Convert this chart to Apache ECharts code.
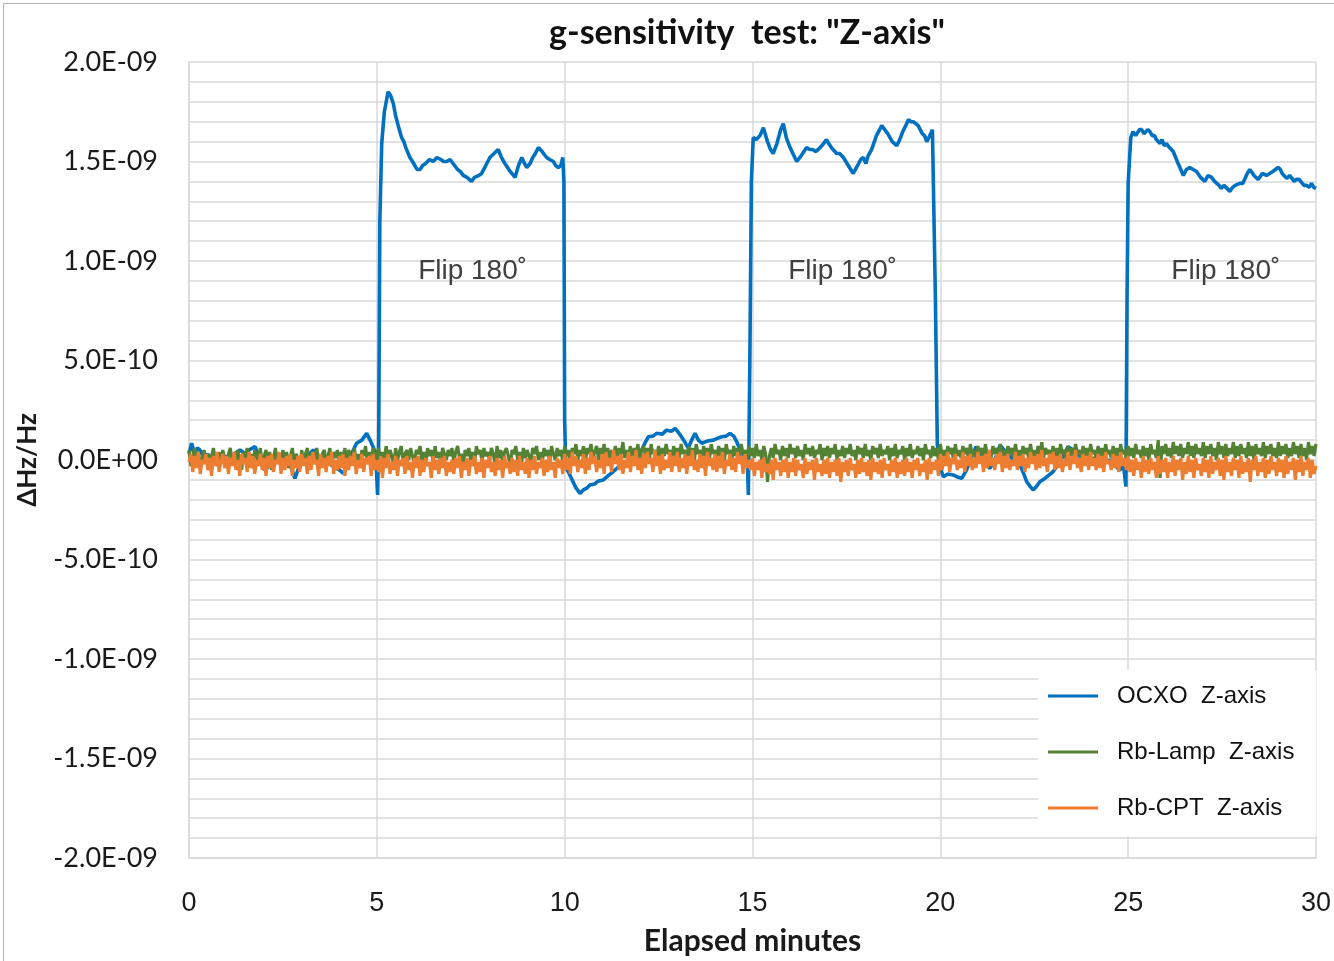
<!DOCTYPE html>
<html>
<head>
<meta charset="utf-8">
<title>g-sensitivity test: "Z-axis"</title>
<script src="https://cdn.jsdelivr.net/npm/echarts@6/dist/echarts.min.js"></script>
<style>
  html, body { margin: 0; padding: 0; background: #ffffff; }
  #chart { width: 1334px; height: 961px; }
</style>
</head>
<body>
<div id="chart"></div>
<script>
// Fractional frequency offset, values given in units of 1E-10.
const UNIT = 1e-10;

// OCXO trace: [elapsed minute, offset x1E-10]
const ocxoTrace = [
  [0, 0.3], [0.07, 0.84], [0.15, 0.3], [0.22, 0.6], [0.29, 0.5], [0.4, 0.1], [0.5, 0.3], [0.6, -0.1],
  [0.74, 0.25], [0.9, 0.0], [1.0, 0.2], [1.1, -0.2], [1.2, 0.3], [1.36, 0.5], [1.5, 0.3], [1.6, 0.5],
  [1.76, 0.67], [1.85, 0.2], [1.95, -0.3], [2.02, -0.5], [2.15, -0.3], [2.3, 0.0], [2.45, -0.2],
  [2.6, 0.1], [2.7, -0.3], [2.82, -0.92], [2.9, -0.5], [3.0, -0.1], [3.15, 0.2], [3.31, 0.5],
  [3.45, 0.2], [3.6, 0.0], [3.75, -0.2], [3.9, -0.4], [4.0, -0.5], [4.11, -0.67], [4.2, -0.3],
  [4.3, 0.2], [4.46, 0.84], [4.6, 1.0], [4.73, 1.34], [4.82, 1.0], [4.9, 0.67], [4.97, 0.3],
  [5.02, -1.76], [5.05, 1.0], [5.08, 12.0], [5.13, 15.9], [5.2, 17.5], [5.3, 18.5], [5.37, 18.3], [5.44, 17.9],
  [5.5, 17.3], [5.57, 16.8], [5.66, 16.2], [5.72, 16.0], [5.77, 15.7], [5.88, 15.2], [5.95, 15.0], [6.0, 14.9],
  [6.07, 14.6], [6.15, 14.6], [6.22, 14.8], [6.3, 14.9], [6.4, 15.1], [6.5, 15.0], [6.6, 15.2], [6.7, 15.1],
  [6.78, 15.0], [6.86, 15.0], [6.95, 15.1], [7.03, 14.9], [7.15, 14.6], [7.22, 14.5], [7.3, 14.3],
  [7.4, 14.2], [7.52, 14.0], [7.6, 14.2], [7.65, 14.1], [7.72, 14.3], [7.79, 14.4], [7.9, 14.8],
  [8.01, 15.2], [8.12, 15.4], [8.23, 15.6], [8.32, 15.2], [8.41, 14.9], [8.55, 14.5], [8.68, 14.2],
  [8.77, 14.8], [8.86, 15.2], [8.93, 14.9], [8.99, 14.7], [9.08, 14.9], [9.15, 15.2], [9.22, 15.4],
  [9.3, 15.7], [9.4, 15.5], [9.52, 15.2], [9.6, 15.1], [9.7, 15.0], [9.76, 14.8], [9.83, 14.7],
  [9.9, 14.8], [9.95, 15.2], [9.98, 14.0], [10.0, 2.0], [10.03, -0.4], [10.1, -0.6], [10.2, -1.0],
  [10.3, -1.4], [10.41, -1.68], [10.5, -1.5], [10.6, -1.4], [10.67, -1.26], [10.8, -1.2], [10.9, -1.05],
  [11.03, -1.0], [11.15, -0.8], [11.29, -0.59], [11.4, -0.4], [11.56, -0.17], [11.7, 0.0],
  [11.85, 0.2], [11.95, 0.3], [12.05, 0.5], [12.15, 0.9], [12.23, 1.17], [12.35, 1.2], [12.45, 1.34],
  [12.6, 1.3], [12.71, 1.5], [12.85, 1.45], [12.94, 1.59], [13.02, 1.4], [13.11, 1.17], [13.2, 0.9],
  [13.29, 0.59], [13.38, 1.0], [13.47, 1.34], [13.56, 1.0], [13.65, 0.84], [13.8, 0.95], [13.96, 1.0],
  [14.08, 1.1], [14.18, 1.17], [14.3, 1.2], [14.4, 1.34], [14.5, 1.2], [14.58, 0.92], [14.71, 0.34],
  [14.8, 0.2], [14.86, 0.1], [14.89, -1.76], [14.93, 5.0], [14.97, 14.0], [15.02, 16.2], [15.1, 16.1],
  [15.2, 16.3], [15.29, 16.7], [15.35, 16.3], [15.4, 16.0], [15.48, 15.6], [15.55, 15.4], [15.65, 15.9],
  [15.75, 16.6], [15.82, 16.9], [15.9, 16.2], [16.0, 15.7], [16.1, 15.3], [16.18, 15.0], [16.3, 15.3],
  [16.44, 15.7], [16.52, 15.6], [16.6, 15.6], [16.68, 15.5], [16.75, 15.6], [16.85, 15.8], [16.97, 16.1],
  [17.03, 15.9], [17.1, 15.7], [17.24, 15.4], [17.32, 15.4], [17.42, 15.2], [17.55, 14.8], [17.68, 14.4],
  [17.8, 14.8], [17.88, 15.1], [17.95, 15.2], [18.02, 14.9], [18.08, 15.3], [18.17, 15.6], [18.3, 16.3],
  [18.44, 16.8], [18.52, 16.6], [18.6, 16.4], [18.72, 16.0], [18.84, 15.8], [18.92, 16.1], [19.0, 16.5],
  [19.08, 16.8], [19.15, 17.1], [19.22, 17.0], [19.28, 17.0], [19.35, 16.9], [19.41, 16.8], [19.52, 16.4],
  [19.58, 16.3], [19.64, 16.0], [19.72, 16.3], [19.79, 16.6], [19.83, 16.5], [19.87, 8.0], [19.92, 0.8],
  [19.98, -0.3], [20.08, -0.84], [20.2, -0.7], [20.34, -0.75], [20.45, -0.85], [20.57, -0.92],
  [20.7, -0.5], [20.8, 0.0], [20.95, 0.67], [21.05, 0.3], [21.2, -0.2], [21.32, -0.42], [21.45, 0.0],
  [21.59, 0.75], [21.7, 0.5], [21.85, 0.2], [22.0, -0.1], [22.12, -0.25], [22.2, -0.6], [22.3, -1.09],
  [22.4, -1.35], [22.47, -1.5], [22.55, -1.35], [22.65, -1.09], [22.8, -0.9], [23.0, -0.59],
  [23.15, -0.2], [23.3, 0.3], [23.4, 0.67], [23.54, 0.5], [23.7, 0.2], [23.9, -0.1], [24.1, 0.1],
  [24.3, -0.2], [24.5, 0.0], [24.65, -0.3], [24.78, -0.5], [24.88, -0.3], [24.94, -1.34], [24.97, 8.0],
  [25.0, 13.9], [25.07, 16.2], [25.13, 16.5], [25.2, 16.3], [25.25, 16.4], [25.3, 16.6], [25.36, 16.6],
  [25.42, 16.4], [25.47, 16.5], [25.52, 16.6], [25.58, 16.5], [25.64, 16.3], [25.7, 16.3], [25.75, 16.1],
  [25.8, 16.2], [25.85, 15.9], [25.9, 16.1], [25.96, 15.8], [26.02, 15.9], [26.1, 15.7], [26.2, 15.5],
  [26.33, 14.9], [26.47, 14.3], [26.55, 14.6], [26.64, 14.7], [26.73, 14.6], [26.82, 14.5], [26.93, 14.2],
  [27.04, 14.0], [27.13, 14.3], [27.22, 14.2], [27.3, 14.0], [27.35, 13.9], [27.42, 13.8], [27.48, 13.65],
  [27.55, 13.8], [27.6, 13.7], [27.71, 13.5], [27.78, 13.7], [27.85, 13.8], [27.97, 13.9], [28.05, 13.9],
  [28.1, 14.1], [28.17, 14.4], [28.24, 14.6], [28.35, 14.3], [28.46, 14.1], [28.57, 14.4], [28.68, 14.3],
  [28.77, 14.4], [28.85, 14.5], [28.99, 14.7], [29.05, 14.6], [29.1, 14.4], [29.22, 14.15], [29.3, 14.3],
  [29.35, 14.2], [29.42, 14.0], [29.48, 14.1], [29.55, 14.1], [29.6, 14.0], [29.68, 13.8], [29.75, 13.8],
  [29.82, 13.7], [29.88, 13.9], [29.94, 13.7], [30.0, 13.65]
];

// Rb references, sampled every 0.05 minute from 0 to 30 (x1E-10), one row per minute.
const SAMPLE_STEP = 0.05;
const rbLamp = [
  0.5, -0.3, 0.2, 0.6, -0.2, 0.4, -0.4, 0.1, 0.5, -0.1, 0.3, -0.5, 0.2, 0.6, 0.0, -0.3, 0.4, -0.2, 0.5, 0.1,
  -0.4, 0.3, 0.6, -0.1, 0.2, -0.3, 0.5, 0.0, -0.5, 0.4, 0.1, 0.6, -0.2, 0.3, -0.4, 0.5, 0.2, -0.1, 0.6, -0.3,
  0.2, 0.5, -0.2, 0.4, -0.5, 0.1, 0.6, -0.1, 0.3, -0.3, 0.5, 0.0, 0.4, -0.4, 0.2, 0.6, -0.2, 0.3, 0.1, -0.4,
  0.5, -0.1, 0.3, 0.6, -0.3, 0.2, 0.4, -0.2, 0.6, 0.0, -0.4, 0.3, 0.5, -0.1, 0.2, 0.6, -0.3, 0.4, 0.1, 0.5,
  -0.2, 0.4, 0.1, 0.6, -0.3, 0.5, 0.2, -0.1, 0.6, 0.0, 0.3, -0.4, 0.5, 0.2, 0.7, -0.2, 0.4, 0.1, 0.6, -0.1,
  0.3, 0.6, -0.2, 0.4, 0.1, 0.7, -0.1, 0.5, 0.2, -0.3, 0.6, 0.0, 0.4, 0.7, -0.2, 0.3, 0.5, 0.0, 0.6, 0.2,
  -0.2, 0.5, 0.3, 0.7, 0.0, 0.4, -0.3, 0.6, 0.2, 0.5, -0.1, 0.7, 0.1, 0.4, -0.2, 0.6, 0.3, 0.0, 0.5, 0.2,
  0.6, -0.1, 0.4, 0.7, 0.1, 0.3, -0.3, 0.5, 0.2, 0.6, 0.0, 0.4, -0.2, 0.7, 0.3, 0.5, -0.1, 0.6, 0.2, 0.4,
  0.0, 0.6, 0.3, -0.2, 0.7, 0.1, 0.5, -0.1, 0.4, 0.6, 0.2, -0.3, 0.5, 0.3, 0.7, 0.0, 0.4, -0.2, 0.6, 0.1,
  0.5, 0.2, -0.1, 0.6, 0.3, 0.7, 0.0, 0.4, -0.2, 0.6, 0.2, 0.5, -0.1, 0.7, 0.3, 0.0, 0.6, 0.2, 0.5, -0.1,
  0.7, 0.2, 0.5, -0.1, 0.6, 0.3, 0.8, 0.0, 0.5, 0.2, 0.7, -0.1, 0.6, 0.3, 0.8, 0.1, 0.4, 0.7, 0.0, 0.6,
  0.3, 0.8, 0.1, 0.6, -0.1, 0.5, 0.2, 0.7, 0.0, 0.6, 0.3, 0.9, 0.1, 0.5, 0.2, 0.7, -0.1, 0.6, 0.3, 0.8,
  0.0, 0.5, 0.7, 0.2, 0.6, -0.1, 0.8, 0.3, 0.5, 0.1, 0.7, 0.0, 0.6, 0.2, 0.8, 0.3, 0.5, -0.1, 0.7, 0.2,
  0.6, 0.1, 0.8, 0.3, 0.5, 0.0, 0.7, 0.2, 0.6, -0.1, 0.8, 0.3, 0.5, 0.1, 0.7, 0.2, 0.6, 0.0, 0.8, 0.3,
  0.5, 0.1, 0.7, 0.2, 0.6, -0.1, 0.8, 0.3, 0.5, 0.0, 0.7, 0.2, 0.6, 0.1, 0.8, 0.3, 0.5, 0.0, 0.7, 0.2,
  0.6, 0.1, 0.8, 0.2, 0.5, 0.0, 0.7, 0.3, -1.1, 0.2, 0.6, 0.1, 0.8, 0.3, 0.5, 0.0, 0.7, 0.2, 0.6, 0.1,
  0.8, 0.3, 0.6, 0.1, 0.7, 0.2, 0.5, 0.0, 0.8, 0.3, 0.6, 0.2, 0.7, 0.1, 0.5, 0.3, 0.8, 0.0, 0.6, 0.2,
  0.7, 0.1, 0.6, 0.3, 0.8, 0.0, 0.5, 0.2, 0.7, 0.1, 0.6, 0.3, 0.8, 0.2, 0.5, 0.0, 0.7, 0.3, 0.6, 0.1,
  0.8, 0.2, 0.5, 0.0, 0.7, 0.3, 0.6, 0.1, 0.8, 0.2, 0.5, 0.3, 0.7, 0.0, 0.6, 0.2, 0.8, 0.1, 0.5, 0.3,
  0.7, 0.0, 0.6, 0.2, 0.8, 0.1, 0.5, 0.3, 0.7, 0.2, 0.6, 0.0, 0.8, 0.3, 0.5, 0.1, 0.7, 0.2, 0.6, 0.0,
  0.8, 0.2, 0.5, 0.1, 0.7, 0.3, 0.6, 0.0, 0.8, 0.2, 0.5, 0.1, 0.7, 0.3, 0.6, 0.0, 0.8, 0.2, 0.5, 0.1,
  0.7, 0.3, 0.6, 0.0, 0.8, 0.2, 0.5, 0.1, 0.7, 0.3, 0.6, 0.1, 0.8, 0.2, 0.5, 0.0, 0.7, 0.3, 0.6, 0.1,
  0.8, 0.2, 0.5, 0.0, 0.7, 0.3, 0.6, 0.1, 0.8, 0.2, 0.5, 0.0, 0.7, 0.2, 0.9, 0.1, 0.6, 0.3, 0.5, 0.0,
  0.7, 0.2, 0.6, 0.1, 0.8, 0.3, 0.5, 0.0, 0.7, 0.2, 0.6, 0.1, 0.8, 0.3, 0.5, 0.0, 0.7, 0.2, 0.6, 0.1,
  0.8, 0.3, 0.5, 0.1, 0.7, 0.2, 0.6, 0.0, 0.8, 0.3, 0.5, 0.1, 0.7, 0.2, 0.6, 0.0, 0.8, 0.3, 0.5, 0.1,
  0.7, 0.2, 0.6, 0.1, 0.8, 0.3, 0.5, 0.1, 0.7, 0.2, 0.6, 0.0, 0.8, 0.3, 0.5, 0.1, 1.0, -0.9, 0.7, 0.3,
  0.8, 0.2, 0.6, 0.1, 0.9, 0.3, 0.7, 0.2, 0.8, 0.1, 0.6, 0.3, 0.9, 0.2, 0.7, 0.1, 0.8, 0.3, 0.6, 0.2,
  0.9, 0.1, 0.7, 0.3, 0.8, 0.2, 0.6, 0.0, 0.9, 0.3, 0.7, 0.1, 0.8, 0.2, 0.6, 0.3, 0.9, 0.1, 0.7, 0.2,
  0.8, 0.3, 0.6, 0.1, 0.9, 0.2, 0.7, 0.0, 0.8, 0.3, 0.6, 0.2, 0.9, 0.1, 0.7, 0.3, 0.8, 0.2, 0.6, 0.1,
  0.9, 0.2, 0.7, 0.3, 0.8, 0.1, 0.6, 0.2, 0.9, 0.3, 0.7, 0.1, 0.8, 0.2, 0.6, 0.0, 0.9, 0.3, 0.7, 0.2,
  0.8
];
const rbCpt = [
  -0.1, 0.3, -0.6, 0.2, -0.4, 0.4, -0.7, 0.0, -0.2, 0.3, -0.5, 0.1, -0.8, 0.2, -0.3, 0.4, -0.6, -0.1, 0.3, -0.4,
  0.2, -0.7, 0.1, -0.3, 0.4, -0.5, 0.0, -0.8, 0.3, -0.2, 0.1, -0.6, 0.4, -0.4, 0.2, -0.7, 0.0, -0.3, 0.3, -0.5,
  0.1, -0.8, 0.2, -0.4, 0.3, -0.6, 0.0, -0.2, 0.4, -0.7, 0.1, -0.5, 0.2, -0.3, 0.3, -0.8, 0.0, -0.4, 0.2, -0.6,
  0.3, -0.3, 0.1, -0.7, 0.2, -0.5, 0.4, -0.2, 0.0, -0.8, 0.3, -0.4, 0.1, -0.6, 0.2, -0.3, 0.4, -0.7, 0.0, -0.5,
  0.2, -0.4, 0.3, -0.8, 0.1, -0.5, 0.2, -0.3, 0.4, -0.7, 0.0, -0.4, 0.3, -0.6, 0.1, -0.2, 0.2, -0.8, 0.3, -0.5,
  0.0, -0.6, 0.2, -0.9, 0.1, -0.4, 0.3, -0.7, -0.1, -0.5, 0.2, -0.8, 0.0, -0.3, 0.1, -0.7, 0.2, -0.5, -0.1, -0.9,
  0.1, -0.4, 0.2, -0.8, 0.0, -0.6, 0.1, -0.3, -0.1, -0.9, 0.2, -0.5, 0.0, -0.7, 0.1, -0.4, 0.2, -0.8, -0.1, -0.6,
  0.0, -0.7, 0.1, -0.4, 0.2, -0.9, -0.1, -0.5, 0.1, -0.8, 0.0, -0.3, 0.2, -0.7, -0.1, -0.6, 0.1, -0.9, 0.0, -0.4,
  0.2, -0.6, -0.1, -0.8, 0.1, -0.5, 0.0, -0.9, 0.2, -0.4, -0.1, -0.7, 0.1, -0.6, 0.0, -0.8, 0.2, -0.5, -0.1, -0.7,
  0.1, -0.9, 0.0, -0.5, 0.2, -0.7, -0.1, -0.4, 0.1, -0.8, 0.0, -0.6, 0.2, -0.5, -0.1, -0.9, 0.1, -0.4, 0.0, -0.7,
  0.3, -0.5, 0.1, -0.7, 0.4, -0.3, 0.2, -0.6, 0.0, -0.4, 0.3, -0.7, 0.1, -0.5, 0.4, -0.2, 0.2, -0.6, 0.0, -0.4,
  0.3, -0.7, 0.4, -0.3, 0.1, -0.6, 0.5, -0.2, 0.2, -0.5, 0.3, -0.7, 0.0, -0.4, 0.4, -0.6, 0.2, -0.3, 0.5, -0.5,
  0.1, -0.7, 0.3, -0.4, 0.4, -0.2, 0.1, -0.6, 0.5, -0.3, 0.2, -0.7, 0.3, -0.5, 0.0, -0.4, 0.4, -0.6, 0.2, -0.3,
  0.4, -0.6, 0.1, -0.4, 0.3, -0.7, 0.2, -0.3, 0.5, -0.5, 0.0, -0.6, 0.3, -0.4, 0.2, -0.8, 0.4, -0.3, 0.1, -0.5,
  0.3, -0.6, 0.2, -0.4, 0.4, -0.7, 0.0, -0.3, 0.3, -0.5, 0.1, -0.6, 0.4, -0.2, 0.2, -0.7, 0.3, -0.4, 0.0, -0.5,
  0.1, -0.8, -0.1, -0.5, 0.0, -0.9, 0.1, -0.6, -0.2, -0.7, 0.0, -1.0, 0.1, -0.5, -0.1, -0.8, 0.0, -0.6, 0.1, -0.9,
  -0.1, -0.6, 0.1, -0.8, 0.0, -0.5, -0.2, -0.9, 0.1, -0.7, -0.1, -0.5, 0.0, -1.0, 0.1, -0.6, -0.2, -0.8, 0.0, -0.7,
  0.1, -0.9, -0.1, -0.6, 0.0, -0.8, 0.1, -1.1, -0.1, -0.6, 0.0, -0.8, 0.1, -0.5, -0.2, -0.9, 0.0, -0.7, 0.1, -0.6,
  -0.1, -0.8, 0.0, -1.0, 0.1, -0.6, -0.1, -0.7, 0.0, -0.9, 0.1, -0.5, -0.2, -0.8, 0.0, -0.6, 0.1, -0.9, -0.1, -0.7,
  0.0, -0.8, 0.1, -0.6, -0.1, -0.9, 0.0, -0.5, 0.1, -0.8, -0.2, -0.6, 0.0, -1.0, 0.1, -0.7, -0.1, -0.5, 0.0, -0.8,
  0.3, -0.5, 0.2, -0.3, 0.4, -0.6, 0.1, -0.2, 0.3, -0.5, 0.0, -0.4, 0.4, -0.6, 0.2, -0.3, 0.3, -0.5, 0.1, -0.4,
  0.4, -0.2, 0.2, -0.6, 0.3, -0.4, 0.5, -0.3, 0.1, -0.5, 0.3, -0.2, 0.4, -0.6, 0.2, -0.4, 0.3, -0.5, 0.0, -0.3,
  0.4, -0.5, 0.2, -0.3, 0.3, -0.6, 0.1, -0.4, 0.4, -0.2, 0.2, -0.5, 0.3, -0.4, 0.5, -0.3, 0.1, -0.6, 0.3, -0.2,
  0.4, -0.5, 0.2, -0.4, 0.3, -0.6, 0.0, -0.3, 0.4, -0.5, 0.2, -0.2, 0.5, -0.4, 0.1, -0.6, 0.3, -0.3, 0.2, -0.5,
  0.4, -0.3, 0.1, -0.5, 0.3, -0.4, 0.2, -0.6, 0.4, -0.2, 0.0, -0.5, 0.3, -0.4, 0.2, -0.6, 0.4, -0.3, 0.1, -0.5,
  0.2, -0.6, 0.0, -0.8, 0.1, -0.5, -0.1, -0.9, 0.2, -0.6, 0.0, -0.7, 0.1, -0.5, -0.1, -0.9, 0.2, -0.7, 0.0, -0.6,
  0.1, -0.9, -0.1, -0.6, 0.2, -0.8, 0.0, -0.5, 0.1, -1.0, -0.1, -0.7, 0.2, -0.6, 0.0, -0.9, 0.1, -0.5, -0.2, -0.8,
  0.1, -0.6, 0.0, -0.9, 0.2, -0.7, -0.1, -0.5, 0.1, -0.8, 0.0, -1.0, 0.2, -0.6, -0.1, -0.8, 0.1, -0.5, 0.0, -0.9,
  0.2, -0.7, -0.1, -0.6, 0.1, -1.1, 0.0, -0.5, 0.2, -0.8, -0.1, -0.6, 0.1, -0.9, 0.0, -0.7, 0.2, -0.5, -0.1, -0.8,
  0.1, -0.6, 0.0, -0.9, 0.2, -0.7, -0.1, -0.5, 0.1, -1.0, 0.0, -0.6, 0.2, -0.8, -0.1, -0.5, 0.1, -0.9, 0.0, -0.7,
  -0.3
];

const seriesNames = ['OCXO  Z-axis', 'Rb-Lamp  Z-axis', 'Rb-CPT  Z-axis'];
const seriesColors = ['#0070C0', '#548235', '#ED7D31'];

// Annotation placed over each flipped interval
const flipText = 'Flip 180\u02DA';
const flipMinutes = [7.55, 17.4, 27.6];
const flipLevel = 9.5e-10;

const xTicks = { min: 0, max: 30, interval: 5 };
const yTicks = { min: -2e-9, max: 2e-9, interval: 5e-10 };

function sciLabel(v) {
  if (Math.abs(v) < 1e-15) v = 0;
  const parts = v.toExponential(1).split('e');
  const exp = parseInt(parts[1], 10);
  return parts[0] + 'E' + (exp < 0 ? '-' : '+') + String(Math.abs(exp)).padStart(2, '0');
}

const toPairs = (vals) => vals.map((v, i) => [+(i * SAMPLE_STEP).toFixed(2), v * UNIT]);

const gridColor = '#d9d9d9';
const calibriLike = 'Lato, "Open Sans", sans-serif';
const arialLike = '"Liberation Sans", Arial, sans-serif';

const chart = echarts.init(document.getElementById('chart'), null, { renderer: 'canvas' });

chart.setOption({
  animation: false,
  backgroundColor: '#ffffff',
  title: {
    text: 'g-sensitivity  test: "Z-axis"',
    left: 742,
    textAlign: 'center',
    top: 11,
    textStyle: { fontFamily: calibriLike, fontWeight: 'bold', fontSize: 34, color: '#111111' }
  },
  grid: { left: 189, right: 17, top: 62, bottom: 103, containLabel: false },
  legend: {
    orient: 'vertical',
    left: 1038,
    top: 670,
    padding: [14, 22, 16, 10],
    backgroundColor: '#ffffff',
    itemWidth: 50,
    itemHeight: 3,
    itemGap: 32,
    icon: 'rect',
    data: seriesNames,
    textStyle: { fontFamily: arialLike, fontSize: 24, color: '#111111', lineHeight: 24, padding: [0, 0, 0, 14] }
  },
  graphic: [
    {
      type: 'rect',
      silent: true,
      z: 100,
      shape: { x: 3.5, y: 3.5, width: 1400, height: 1000 },
      style: { fill: 'none', stroke: '#b4b4b4', lineWidth: 1 }
    }
  ],
  xAxis: {
    type: 'value',
    min: xTicks.min,
    max: xTicks.max,
    interval: xTicks.interval,
    name: 'Elapsed minutes',
    nameLocation: 'middle',
    nameGap: 68,
    nameTextStyle: { fontFamily: calibriLike, fontWeight: 'bold', fontSize: 30, color: '#1a1a1a' },
    axisLine: { show: true, onZero: false, lineStyle: { color: gridColor, width: 1.5 } },
    axisTick: { show: false },
    axisLabel: { margin: 32, fontFamily: arialLike, fontSize: 27, color: '#1a1a1a' },
    splitLine: { show: true, lineStyle: { color: gridColor, width: 1.5 } }
  },
  yAxis: {
    type: 'value',
    min: yTicks.min,
    max: yTicks.max,
    interval: yTicks.interval,
    name: '\u0394Hz/Hz',
    nameLocation: 'middle',
    nameGap: 148,
    nameRotate: 90,
    nameTextStyle: { fontFamily: calibriLike, fontWeight: 'bold', fontSize: 26, color: '#1a1a1a' },
    axisLine: { show: true, lineStyle: { color: gridColor, width: 1.5 } },
    axisTick: { show: false },
    minorTick: { show: false, splitNumber: 5 },
    axisLabel: { margin: 31, fontFamily: calibriLike, fontSize: 27, color: '#1a1a1a', formatter: sciLabel },
    splitLine: { show: true, lineStyle: { color: gridColor, width: 1.5 } },
    minorSplitLine: { show: true, lineStyle: { color: gridColor, width: 1.5 } }
  },
  series: [
    {
      name: seriesNames[0],
      type: 'line',
      showSymbol: false,
      color: seriesColors[0],
      lineStyle: { width: 3.6 },
      data: ocxoTrace.map(p => [p[0], p[1] * UNIT]),
      markPoint: {
        silent: true,
        symbol: 'circle',
        symbolSize: 1,
        itemStyle: { color: 'rgba(0,0,0,0)' },
        label: { show: true, position: 'inside', formatter: flipText, fontFamily: arialLike, fontSize: 28, color: '#404040' },
        data: flipMinutes.map(m => ({ coord: [m, flipLevel] }))
      }
    },
    {
      name: seriesNames[1],
      type: 'line',
      showSymbol: false,
      color: seriesColors[1],
      lineStyle: { width: 3.2 },
      data: toPairs(rbLamp)
    },
    {
      name: seriesNames[2],
      type: 'line',
      showSymbol: false,
      color: seriesColors[2],
      lineStyle: { width: 3.2 },
      data: toPairs(rbCpt)
    }
  ]
});
</script>
</body>
</html>
